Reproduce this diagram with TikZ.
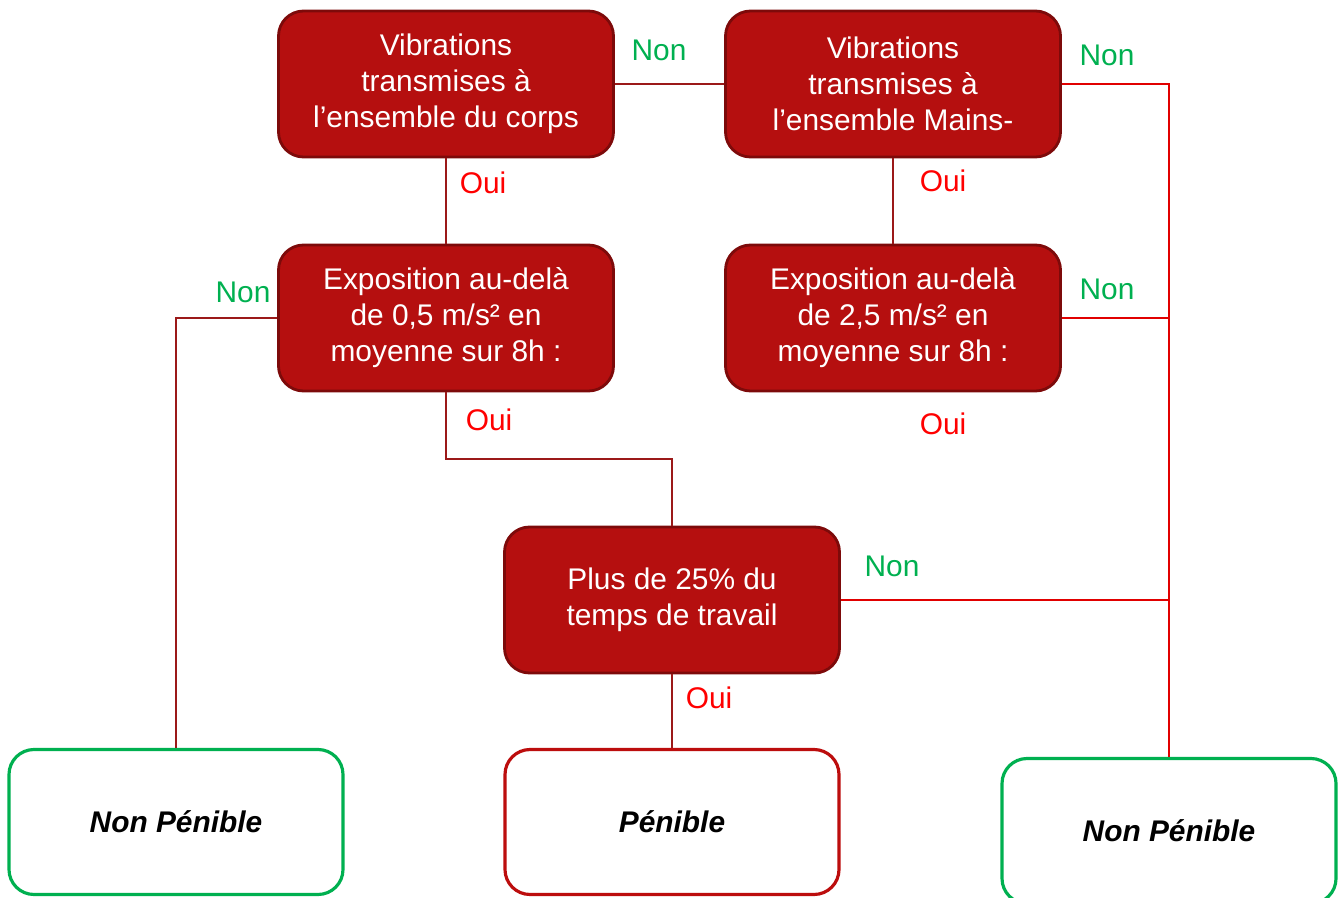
\documentclass[tikz,border=0pt]{standalone}
\usepackage{fontspec}
\setmainfont{Liberation Sans}

\definecolor{boxred}{RGB}{181,15,15}
\definecolor{boxedge}{RGB}{125,10,10}
\definecolor{linered}{RGB}{155,25,25}
\definecolor{hotred}{RGB}{225,0,0}
\definecolor{ouired}{RGB}{255,0,0}
\definecolor{nongreen}{RGB}{0,176,80}

\begin{document}
\begin{tikzpicture}[
        question/.style={draw=boxedge, fill=boxred, line width=1.6pt, rounded corners=0.5cm,
            minimum width=6.7cm, minimum height=2.92cm, text=white, align=center,
            font=\fontsize{17}{20.5}\selectfont},
        nonpen/.style={draw=nongreen, fill=white, line width=1.8pt, rounded corners=0.5cm,
            minimum width=6.68cm, minimum height=2.9cm, font=\fontsize{17}{20}\selectfont\bfseries\itshape},
        pen/.style={nonpen, draw=boxred!90!red},
        oui/.style={text=ouired, font=\fontsize{17}{20}\selectfont},
        non/.style={text=nongreen, font=\fontsize{17}{20}\selectfont},
        wire/.style={draw=linered, line width=0.9pt},
        hotwire/.style={draw=hotred, line width=0.9pt}
    ]
        \useasboundingbox (0, 0) rectangle (26.88, 17.94);

        % Questions
        \node[question] (corps) at (8.92, 16.26) {Vibrations\\transmises à\\l’ensemble du corps};
        \node[question] (mains) at (17.86, 16.26) {Vibrations\\transmises à\\l’ensemble Mains-};
        \node[question] (expo1) at (8.92, 11.58) {Exposition au-delà\\de 0,5 m/s² en\\moyenne sur 8h :};
        \node[question] (expo2) at (17.86, 11.58) {Exposition au-delà\\de 2,5 m/s² en\\moyenne sur 8h :};
        \node[question] (temps) at (13.44, 5.94) {Plus de 25\% du\\temps de travail};

        % Results
        \node[nonpen] (nonpen1) at (3.52, 1.5) {Non Pénible};
        \node[pen] (penible) at (13.44, 1.5) {Pénible};
        \node[nonpen] (nonpen2) at (23.38, 1.32) {Non Pénible};

        \coordinate (bend) at (8.92, 8.76);

        % Left part
        \draw[wire] (corps) -- (mains);
        \draw[wire] (corps) -- (expo1);
        \draw[wire] (mains) -- (expo2);
        \draw[wire] (expo1.west) -| (nonpen1.north);
        \draw[wire] (expo1.south) -- (bend) -| (temps.north);
        \draw[wire] (temps) -- (penible);

        % Right part
        \draw[hotwire] (mains.east) -| (nonpen2.north);
        \draw[hotwire] (expo2.east) -- (expo2.east -| nonpen2.north);
        \draw[hotwire] (temps.east) -- (temps.east -| nonpen2.north);

        % Labels
        \node[non] (n1) at (13.18, 16.94) {Non};
        \node[non] (n2) at (22.14, 16.84) {Non};
        \node[non] (n3) at (22.14, 12.16) {Non};
        \node[non] (n4) at (4.86, 12.1) {Non};
        \node[non] (n5) at (17.84, 6.62) {Non};
        \node[oui] (o1) at (9.66, 14.28) {Oui};
        \node[oui] (o2) at (18.86, 14.32) {Oui};
        \node[oui] (o3) at (9.78, 9.54) {Oui};
        \node[oui] (o4) at (18.86, 9.46) {Oui};
        \node[oui] (o5) at (14.18, 3.98) {Oui};
    \end{tikzpicture}
\end{document}
